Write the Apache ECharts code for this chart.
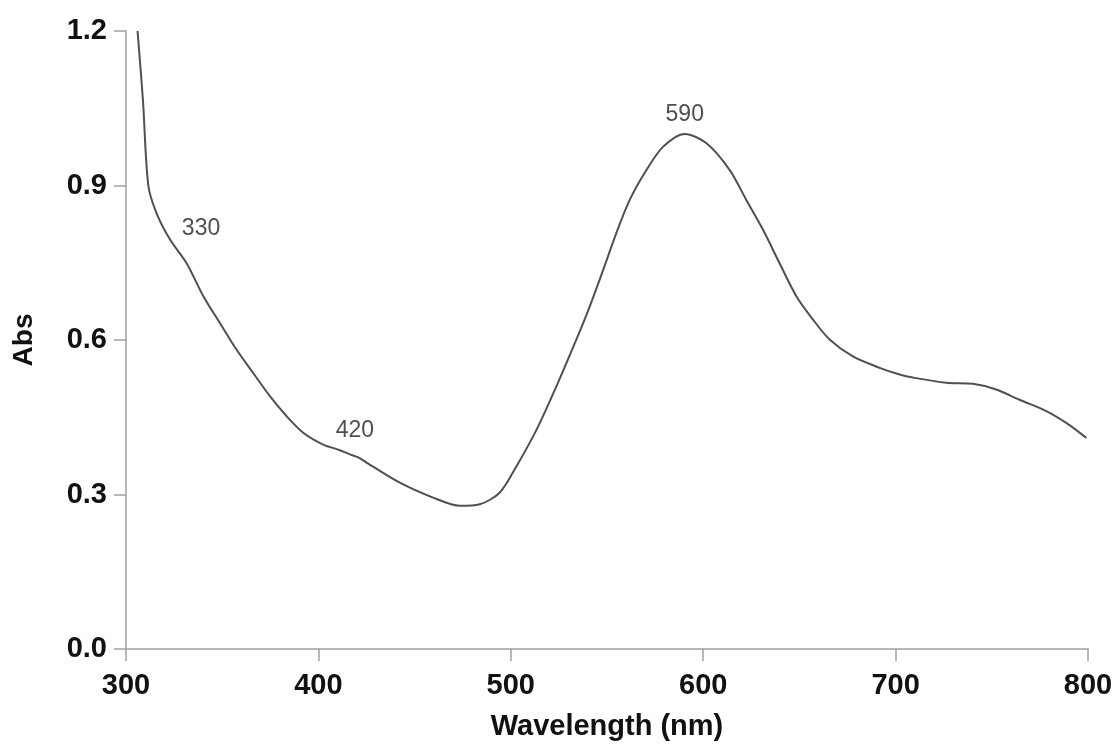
<!DOCTYPE html>
<html>
<head>
<meta charset="utf-8">
<script src="https://cdn.jsdelivr.net/npm/echarts@6/dist/echarts.min.js"></script>
<style>
  html, body { margin: 0; padding: 0; background: #fff; }
  #main { width: 1119px; height: 746px; }
</style>
</head>
<body>
<div id="main"></div>
<script>
// wavelength (nm) and absorbance
let wavelength = [306, 308.8, 311.6, 315.9, 322.9, 331.5, 340.2, 348.8, 357.5, 366.1,
  374.8, 383.5, 392.1, 402.5, 411.2, 416.4, 420.7, 425.0, 442.3, 459.6,
  473.5, 483.9, 494.3, 502.5, 513.4, 523.7, 534.1, 541.0, 548.0, 554.9,
  561.8, 570.5, 579.1, 590.4, 601.7, 613.8, 622.4, 631.1, 639.7, 648.4,
  657.0, 665.7, 677.8, 691.7, 702.1, 709.0, 726.3, 740.2, 752.3, 764.4,
  778.3, 788.7, 799.1];
let absorbance = [1.200, 1.066, 0.900, 0.846, 0.795, 0.749, 0.685, 0.633, 0.581, 0.536,
  0.491, 0.452, 0.420, 0.397, 0.386, 0.378, 0.372, 0.362, 0.323, 0.294,
  0.278, 0.281, 0.304, 0.352, 0.426, 0.510, 0.601, 0.665, 0.736, 0.808,
  0.872, 0.930, 0.975, 1.000, 0.982, 0.930, 0.872, 0.814, 0.749, 0.685,
  0.640, 0.601, 0.568, 0.546, 0.533, 0.527, 0.517, 0.515, 0.504, 0.484,
  0.462, 0.439, 0.410];

// peak annotations: text and where the text sits
let peakText = ['330', '420', '590'];
let peakLabelX = [339, 419, 590.4];
let peakLabelY = [0.816, 0.424, 1.037];

let xTicks = [300, 400, 500, 600, 700, 800];
let yTicks = [0, 0.3, 0.6, 0.9, 1.2];

let spectrum = wavelength.map((w, i) => [w, absorbance[i]]);
let peaks = peakText.map((t, i) => ({ value: [peakLabelX[i], peakLabelY[i]], name: t }));

let axisGray = '#a0a0a0';
let font = 'Liberation Sans, Arial, Helvetica, sans-serif';

let myChart = echarts.init(document.getElementById('main'));
let option = {
  backgroundColor: '#fff',
  animation: false,
  grid: {
    left: 126,
    right: 31,
    top: 31,
    bottom: 96
  },
  xAxis: {
    type: 'value',
    min: xTicks[0],
    max: xTicks[xTicks.length - 1],
    interval: 100,
    name: 'Wavelength (nm)',
    nameLocation: 'middle',
    nameGap: 63,
    nameTextStyle: { fontFamily: font, fontWeight: 'bold', fontSize: 29, color: '#111' },
    axisLine: { onZero: false, lineStyle: { color: axisGray, width: 1.5 } },
    axisTick: { length: 12, lineStyle: { color: axisGray, width: 1.5 } },
    axisLabel: { margin: 22, fontFamily: font, fontWeight: 'bold', fontSize: 29, color: '#111' },
    splitLine: { show: false }
  },
  yAxis: {
    type: 'value',
    min: yTicks[0],
    max: yTicks[yTicks.length - 1],
    interval: 0.3,
    name: 'Abs',
    nameLocation: 'middle',
    nameGap: 88,
    nameRotate: 90,
    nameTextStyle: { fontFamily: font, fontWeight: 'bold', fontSize: 28, color: '#111' },
    axisLine: { show: true, lineStyle: { color: axisGray, width: 1.5 } },
    axisTick: { show: true, length: 12, lineStyle: { color: axisGray, width: 1.5 } },
    axisLabel: {
      margin: 19,
      fontFamily: font,
      fontWeight: 'bold',
      fontSize: 29,
      color: '#111',
      formatter: v => v.toFixed(1)
    },
    splitLine: { show: false }
  },
  series: [
    {
      type: 'line',
      data: spectrum,
      smooth: 0.3,
      showSymbol: false,
      lineStyle: { color: '#505050', width: 2 }
    },
    {
      type: 'scatter',
      data: peaks,
      symbolSize: 0,
      label: {
        show: true,
        position: 'inside',
        formatter: p => p.name,
        fontFamily: font,
        fontSize: 23,
        color: '#222'
      }
    }
  ]
};
myChart.setOption(option);
</script>
</body>
</html>
